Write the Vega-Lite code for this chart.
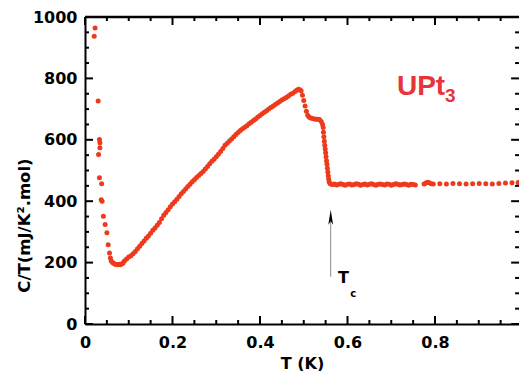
{
  "$schema": "https://vega.github.io/schema/vega-lite/v6.json",
  "autosize": {"type": "none"},
  "padding": {"left": 85, "top": 17, "right": 0, "bottom": 47},
  "width": 434,
  "height": 307,
  "background": "white",
  "config": {
    "view": {"stroke": null},
    "axis": {
      "domain": true, "domainColor": "black", "domainWidth": 2, "ticks": false,
      "labelFont": "DejaVu Sans", "labelFontWeight": "bold", "labelFontSize": 16, "labelColor": "black",
      "titleFont": "DejaVu Sans", "titleFontWeight": "bold", "titleColor": "black", "grid": false
    }
  },
  "datasets": {
    "xmajor": [{"v":0},{"v":0.2},{"v":0.4},{"v":0.6},{"v":0.8}],
    "xminor": [{"v":0.05},{"v":0.1},{"v":0.15},{"v":0.25},{"v":0.3},{"v":0.35},{"v":0.45},{"v":0.5},{"v":0.55},{"v":0.65},{"v":0.7},{"v":0.75},{"v":0.85},{"v":0.9},{"v":0.95}],
    "ymajor": [{"v":0},{"v":200},{"v":400},{"v":600},{"v":800},{"v":1000}],
    "yminor": [{"v":50},{"v":100},{"v":150},{"v":250},{"v":300},{"v":350},{"v":450},{"v":500},{"v":550},{"v":650},{"v":700},{"v":750},{"v":850},{"v":900},{"v":950}],
    "pts": [
    {"T":0.021,"C":937},{"T":0.023,"C":964},{"T":0.030,"C":726},{"T":0.033,"C":601},{"T":0.034,"C":590},{"T":0.034,"C":574},{"T":0.031,"C":552},{"T":0.033,"C":476},{"T":0.038,"C":457},{"T":0.037,"C":405},{"T":0.039,"C":400},{"T":0.042,"C":351},{"T":0.046,"C":324},{"T":0.050,"C":297},{"T":0.053,"C":258},{"T":0.056,"C":231},{"T":0.058,"C":215},{"T":0.060,"C":205},{"T":0.063,"C":200},{"T":0.066,"C":197},{"T":0.069,"C":195},{"T":0.072,"C":194},{"T":0.075,"C":193},{"T":0.078,"C":195},{"T":0.081,"C":193},{"T":0.084,"C":196},{"T":0.087,"C":199},
    {"T":0.090,"C":205},{"T":0.095,"C":212},{"T":0.100,"C":218},{"T":0.105,"C":222},{"T":0.110,"C":229},{"T":0.115,"C":236},{"T":0.120,"C":245},{"T":0.125,"C":253},{"T":0.130,"C":262},{"T":0.135,"C":270},{"T":0.140,"C":279},{"T":0.145,"C":287},{"T":0.150,"C":296},{"T":0.155,"C":305},{"T":0.160,"C":313},{"T":0.165,"C":322},{"T":0.170,"C":331},{"T":0.175,"C":343},{"T":0.180,"C":354},{"T":0.185,"C":363},{"T":0.190,"C":372},{"T":0.195,"C":382},{"T":0.200,"C":391},{"T":0.205,"C":398},{"T":0.210,"C":406},{"T":0.215,"C":415},{"T":0.220,"C":424},{"T":0.225,"C":432},{"T":0.230,"C":440},{"T":0.235,"C":448},{"T":0.240,"C":455},{"T":0.245,"C":463},{"T":0.250,"C":470},{"T":0.255,"C":477},{"T":0.260,"C":484},{"T":0.265,"C":490},{"T":0.270,"C":497},{"T":0.275,"C":505},{"T":0.280,"C":513},{"T":0.285,"C":522},{"T":0.290,"C":530},{"T":0.295,"C":537},{"T":0.300,"C":545},{"T":0.305,"C":553},{"T":0.310,"C":562},{"T":0.315,"C":572},{"T":0.320,"C":582},{"T":0.325,"C":589},{"T":0.330,"C":596},{"T":0.335,"C":603},{"T":0.340,"C":610},{"T":0.345,"C":617},{"T":0.350,"C":624},{"T":0.355,"C":630},{"T":0.360,"C":636},{"T":0.365,"C":641},{"T":0.370,"C":646},{"T":0.375,"C":652},{"T":0.380,"C":657},{"T":0.385,"C":663},{"T":0.390,"C":668},{"T":0.395,"C":674},{"T":0.400,"C":679},{"T":0.405,"C":685},{"T":0.410,"C":690},{"T":0.415,"C":695},{"T":0.420,"C":700},{"T":0.425,"C":705},{"T":0.430,"C":710},{"T":0.435,"C":715},{"T":0.440,"C":720},{"T":0.445,"C":725},{"T":0.450,"C":730},{"T":0.455,"C":734},{"T":0.460,"C":738},{"T":0.465,"C":743},{"T":0.470,"C":748},{"T":0.475,"C":752},{"T":0.480,"C":757},{"T":0.484,"C":761},{"T":0.488,"C":765},{"T":0.491,"C":763},{"T":0.494,"C":760},
    {"T":0.497,"C":745},{"T":0.500,"C":728},{"T":0.503,"C":710},{"T":0.506,"C":693},{"T":0.509,"C":680},{"T":0.512,"C":674},{"T":0.516,"C":671},{"T":0.520,"C":669},{"T":0.524,"C":668},{"T":0.528,"C":667},{"T":0.532,"C":667},{"T":0.536,"C":666},{"T":0.540,"C":660},{"T":0.543,"C":650},{"T":0.5445,"C":640},{"T":0.545,"C":625},{"T":0.546,"C":610},{"T":0.547,"C":595},{"T":0.548,"C":582},{"T":0.549,"C":570},{"T":0.550,"C":558},{"T":0.551,"C":545},{"T":0.552,"C":532},{"T":0.553,"C":520},{"T":0.554,"C":507},{"T":0.555,"C":495},{"T":0.556,"C":483},{"T":0.557,"C":472},{"T":0.558,"C":463},{"T":0.560,"C":458},{"T":0.563,"C":455},
    {"T":0.566,"C":454},{"T":0.570,"C":456},{"T":0.575,"C":453},{"T":0.580,"C":455},{"T":0.585,"C":457},{"T":0.590,"C":454},{"T":0.595,"C":452},{"T":0.600,"C":455},{"T":0.605,"C":456},{"T":0.610,"C":453},{"T":0.615,"C":454},{"T":0.620,"C":457},{"T":0.625,"C":455},{"T":0.630,"C":452},{"T":0.635,"C":454},{"T":0.640,"C":456},{"T":0.645,"C":453},{"T":0.650,"C":455},{"T":0.655,"C":457},{"T":0.660,"C":454},{"T":0.665,"C":452},{"T":0.670,"C":455},{"T":0.675,"C":456},{"T":0.680,"C":454},{"T":0.685,"C":453},{"T":0.690,"C":456},{"T":0.695,"C":455},{"T":0.700,"C":452},{"T":0.705,"C":454},{"T":0.710,"C":457},{"T":0.715,"C":455},{"T":0.720,"C":453},{"T":0.725,"C":454},{"T":0.730,"C":456},{"T":0.735,"C":454},{"T":0.740,"C":452},{"T":0.745,"C":455},{"T":0.750,"C":454},{"T":0.755,"C":453},
    {"T":0.775,"C":456},{"T":0.779,"C":459},{"T":0.783,"C":462},{"T":0.787,"C":460},{"T":0.791,"C":457},{"T":0.796,"C":456},
    {"T":0.811,"C":457},{"T":0.826,"C":456},{"T":0.841,"C":458},{"T":0.856,"C":457},{"T":0.871,"C":456},{"T":0.886,"C":457},{"T":0.901,"C":458},{"T":0.916,"C":457},{"T":0.931,"C":456},{"T":0.946,"C":458},{"T":0.961,"C":459},{"T":0.976,"C":460},{"T":0.990,"C":461}
    ]
  },
  "resolve": {"axis": {"x": "independent", "y": "independent"}},
  "layer": [
    {
      "data": {"name": "pts"},
      "mark": {"type": "point", "filled": true, "color": "#ee3a1c", "opacity": 1, "size": 25},
      "encoding": {
        "x": {"field": "T", "type": "quantitative",
          "scale": {"domain": [0, 0.992], "nice": false, "zero": false},
          "axis": {"orient": "bottom", "title": "T (K)", "titleFontSize": 16, "titlePadding": 5,
            "values": [0,0.2,0.4,0.6,0.8], "format": ".1~f",
            "labelPadding": 10, "labelFlush": false, "labelOverlap": false}},
        "y": {"field": "C", "type": "quantitative",
          "scale": {"domain": [0, 1000], "nice": false},
          "axis": {"orient": "left", "title": "C/T(mJ/K².mol)", "titleFontSize": 16.5,
            "titleX": -61, "titleY": 208, "titleAlign": "center", "titleAngle": -90, "titleBaseline": "middle",
            "values": [0,200,400,600,800,1000], "format": "d",
            "labelPadding": 8, "labelFlush": false, "labelOverlap": false}}
      }
    },
    {
      "data": {"name": "xmajor"},
      "layer": [
        {"mark": {"type": "rule", "color": "black", "strokeWidth": 2},
         "encoding": {"x": {"field": "v", "type": "quantitative", "axis": null}, "y": {"datum": 0, "type": "quantitative", "axis": null}, "y2": {"datum": 26}}},
        {"mark": {"type": "rule", "color": "black", "strokeWidth": 2},
         "encoding": {"x": {"field": "v", "type": "quantitative", "axis": null}, "y": {"datum": 1000, "type": "quantitative", "axis": null}, "y2": {"datum": 974}}}
      ]
    },
    {
      "data": {"name": "xminor"},
      "layer": [
        {"mark": {"type": "rule", "color": "black", "strokeWidth": 2},
         "encoding": {"x": {"field": "v", "type": "quantitative", "axis": null}, "y": {"datum": 0, "type": "quantitative", "axis": null}, "y2": {"datum": 13}}},
        {"mark": {"type": "rule", "color": "black", "strokeWidth": 2},
         "encoding": {"x": {"field": "v", "type": "quantitative", "axis": null}, "y": {"datum": 1000, "type": "quantitative", "axis": null}, "y2": {"datum": 987}}}
      ]
    },
    {
      "data": {"name": "ymajor"},
      "layer": [
        {"mark": {"type": "rule", "color": "black", "strokeWidth": 2},
         "encoding": {"y": {"field": "v", "type": "quantitative", "axis": null}, "x": {"datum": 0, "type": "quantitative", "axis": null}, "x2": {"datum": 0.0183}}},
        {"mark": {"type": "rule", "color": "black", "strokeWidth": 2},
         "encoding": {"y": {"field": "v", "type": "quantitative", "axis": null}, "x": {"datum": 0.992, "type": "quantitative", "axis": null}, "x2": {"datum": 0.974}}}
      ]
    },
    {
      "data": {"name": "yminor"},
      "layer": [
        {"mark": {"type": "rule", "color": "black", "strokeWidth": 2},
         "encoding": {"y": {"field": "v", "type": "quantitative", "axis": null}, "x": {"datum": 0, "type": "quantitative", "axis": null}, "x2": {"datum": 0.0092}}},
        {"mark": {"type": "rule", "color": "black", "strokeWidth": 2},
         "encoding": {"y": {"field": "v", "type": "quantitative", "axis": null}, "x": {"datum": 0.992, "type": "quantitative", "axis": null}, "x2": {"datum": 0.983}}}
      ]
    },
    {
      "data": {"values": [{}]},
      "mark": {"type": "rule", "color": "black", "strokeWidth": 2.5},
      "encoding": {
        "x": {"datum": 0, "type": "quantitative", "axis": null},
        "x2": {"datum": 0.992},
        "y": {"datum": 1000, "type": "quantitative", "axis": null}
      }
    },
    {
      "data": {"values": [{}]},
      "mark": {"type": "rule", "color": "#8a8a8a", "strokeWidth": 1},
      "encoding": {
        "x": {"datum": 0.5616, "type": "quantitative", "axis": null},
        "y": {"datum": 154, "type": "quantitative", "axis": null},
        "y2": {"datum": 335}
      }
    },
    {
      "data": {"values": [{}]},
      "mark": {"type": "point", "filled": true, "color": "black", "opacity": 1, "size": 225,
        "shape": "M0,-1L0.32,1L0,0.55L-0.32,1Z"},
      "encoding": {
        "x": {"datum": 0.5616, "type": "quantitative", "axis": null},
        "y": {"datum": 348, "type": "quantitative", "axis": null}
      }
    },
    {
      "data": {"values": [{}]},
      "mark": {"type": "text", "text": "UPt", "font": "Liberation Sans", "fontWeight": "bold", "fontSize": 28,
        "color": "#e8333b", "align": "left", "baseline": "alphabetic"},
      "encoding": {
        "x": {"datum": 0.713, "type": "quantitative", "axis": null},
        "y": {"datum": 745, "type": "quantitative", "axis": null}
      }
    },
    {
      "data": {"values": [{}]},
      "mark": {"type": "text", "text": "3", "font": "Liberation Sans", "fontWeight": "bold", "fontSize": 19,
        "color": "#e8333b", "align": "left", "baseline": "alphabetic"},
      "encoding": {
        "x": {"datum": 0.823, "type": "quantitative", "axis": null},
        "y": {"datum": 722, "type": "quantitative", "axis": null}
      }
    },
    {
      "data": {"values": [{}]},
      "mark": {"type": "text", "text": "T", "font": "DejaVu Sans", "fontWeight": "bold", "fontSize": 16,
        "color": "black", "align": "left", "baseline": "alphabetic"},
      "encoding": {
        "x": {"datum": 0.578, "type": "quantitative", "axis": null},
        "y": {"datum": 134, "type": "quantitative", "axis": null}
      }
    },
    {
      "data": {"values": [{}]},
      "mark": {"type": "text", "text": "c", "font": "DejaVu Sans", "fontWeight": "bold", "fontSize": 10,
        "color": "black", "align": "left", "baseline": "alphabetic"},
      "encoding": {
        "x": {"datum": 0.606, "type": "quantitative", "axis": null},
        "y": {"datum": 88, "type": "quantitative", "axis": null}
      }
    }
  ]
}
